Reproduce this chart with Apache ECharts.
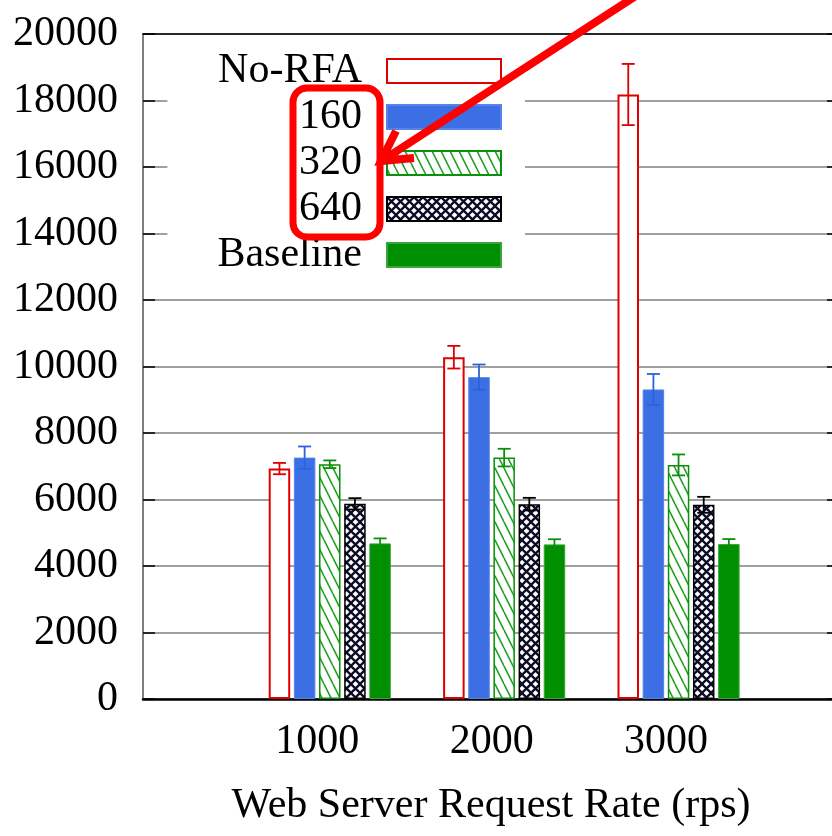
<!DOCTYPE html>
<html>
<head>
<meta charset="utf-8">
<script src="https://cdn.jsdelivr.net/npm/echarts@6/dist/echarts.min.js"></script>
<style>
html,body{margin:0;padding:0;background:#fff;}
#chart{width:832px;height:836px;}
</style>
</head>
<body>
<div id="chart"></div>
<script>
// ---- data ----
const categories = ['1000', '2000', '3000'];
const groupPositions = [1, 2, 3];
const seriesNames = ['No-RFA', '160', '320', '640', 'Baseline'];
const noRFA = [6930, 10280, 18180];
const noRFAErr = [170, 340, 920];
const r160 = [7260, 9680, 9310];
const r160Err = [335, 380, 465];
const r320 = [7060, 7260, 7040];
const r320Err = [115, 265, 315];
const r640 = [5870, 5860, 5840];
const r640Err = [170, 190, 240];
const baseline = [4680, 4650, 4660];
const baselineErr = [150, 155, 150];
const yTicks = [0, 2000, 4000, 6000, 8000, 10000, 12000, 14000, 16000, 18000, 20000];

const values = [noRFA, r160, r320, r640, baseline];
const errors = [noRFAErr, r160Err, r320Err, r640Err, baselineErr];

// ---- styles ----
const FONT = 'Liberation Serif';
const BAR_W = 21.5;
const BAR_GAP = 0.17;
const PITCH = BAR_W * (1 + BAR_GAP);

function hatchPattern() {
  const w = 9, h = 18;
  const c = document.createElement('canvas');
  c.width = w; c.height = h;
  const g = c.getContext('2d');
  g.fillStyle = '#ffffff'; g.fillRect(0, 0, w, h);
  g.strokeStyle = '#1e9e1e'; g.lineWidth = 1.6;
  for (const dx of [-w, 0, w]) {
    g.beginPath(); g.moveTo(dx, 0); g.lineTo(dx + w, h); g.stroke();
  }
  return c;
}
function crossPattern() {
  const s = 9;
  const c = document.createElement('canvas');
  c.width = s; c.height = s;
  const g = c.getContext('2d');
  g.fillStyle = '#ffffff'; g.fillRect(0, 0, s, s);
  g.strokeStyle = '#0c0c26'; g.lineWidth = 2.3;
  for (const dx of [-s, 0, s]) {
    g.beginPath(); g.moveTo(dx, 0); g.lineTo(dx + s, s); g.stroke();
    g.beginPath(); g.moveTo(dx + s, 0); g.lineTo(dx, s); g.stroke();
  }
  return c;
}

const itemStyles = [
  { color: '#ffffff', borderColor: '#e00000', borderWidth: 2 },
  { color: '#3b6fe3', borderColor: '#5583ea', borderWidth: 1 },
  { color: { image: hatchPattern(), repeat: 'repeat' }, borderColor: '#0a900a', borderWidth: 1.5 },
  { color: { image: crossPattern(), repeat: 'repeat' }, borderColor: '#000000', borderWidth: 1.5 },
  { color: '#008f00', borderColor: '#3aa53a', borderWidth: 1 }
];
const errColors = ['#e00000', '#2a62e0', '#0a900a', '#000000', '#0a900a'];

const barSeries = seriesNames.map((name, s) => ({
  name: name,
  type: 'bar',
  xAxisIndex: 0,
  yAxisIndex: 0,
  barWidth: BAR_W,
  barGap: (BAR_GAP * 100) + '%',
  itemStyle: itemStyles[s],
  emphasis: { disabled: true },
  data: groupPositions.map((x, g) => [x, values[s][g]]),
  z: 3
}));

const errData = [];
seriesNames.forEach((name, s) => {
  groupPositions.forEach((x, g) => {
    errData.push([x, s, values[s][g], errors[s][g]]);
  });
});

const errSeries = {
  type: 'custom',
  xAxisIndex: 0,
  yAxisIndex: 0,
  z: 4,
  silent: true,
  data: errData,
  encode: { x: 0, y: 2 },
  renderItem: function (params, api) {
    const x = api.value(0), s = api.value(1), v = api.value(2), e = api.value(3);
    const top = api.coord([x, v + e]);
    const bot = api.coord([x, v - e]);
    const cx = top[0] + (s - 2) * PITCH;
    const cap = 6.5;
    const st = { stroke: errColors[s], lineWidth: 1.8 };
    return {
      type: 'group',
      children: [
        { type: 'line', shape: { x1: cx, y1: top[1], x2: cx, y2: bot[1] }, style: st },
        { type: 'line', shape: { x1: cx - cap, y1: top[1], x2: cx + cap, y2: top[1] }, style: st },
        { type: 'line', shape: { x1: cx - cap, y1: bot[1], x2: cx + cap, y2: bot[1] }, style: st }
      ]
    };
  }
};

const chart = echarts.init(document.getElementById('chart'), null, { renderer: 'canvas' });
chart.setOption({
  animation: false,
  backgroundColor: '#ffffff',
  textStyle: { fontFamily: FONT, color: '#000' },
  grid: { left: 143, right: -7, top: 34, bottom: 137, containLabel: false, outerBoundsMode: 'none' },
  legend: {
    orient: 'vertical',
    align: 'right',
    right: 307,
    top: 36,
    padding: [14, 23, 10, 50],
    backgroundColor: '#ffffff',
    itemWidth: 114,
    itemHeight: 24,
    itemGap: 4,
    icon: 'rect',
    selectedMode: false,
    data: seriesNames,
    textStyle: { fontFamily: FONT, fontSize: 42, color: '#000', lineHeight: 34, padding: [0, 20, 8, 0] }
  },
  xAxis: [
    {
      type: 'value',
      position: 'bottom',
      min: -0.071,
      max: 3.92,
      axisLine: { show: true, onZero: false, lineStyle: { color: '#000', width: 2.5 } },
      axisTick: { show: false },
      splitLine: { show: false },
      axisLabel: {
        customValues: groupPositions,
        formatter: function (v) { return categories[Math.round(v) - 1]; },
        fontFamily: FONT, fontSize: 42, color: '#000',
        margin: 22,
        padding: [0, 25, 0, 0]
      },
      name: 'Web Server Request Rate (rps)',
      nameLocation: 'middle',
      nameGap: 86,
      nameTextStyle: { fontFamily: FONT, fontSize: 42, color: '#000' }
    },
    {
      type: 'value',
      position: 'top',
      min: -0.071,
      max: 3.92,
      axisLine: { show: true, onZero: false, lineStyle: { color: '#000', width: 1.5 } },
      axisTick: { show: false },
      axisLabel: { show: false },
      splitLine: { show: false }
    }
  ],
  yAxis: [
    {
      type: 'value',
      position: 'left',
      min: 0,
      max: 20000,
      interval: 2000,
      axisLine: { show: true, onZero: false, lineStyle: { color: '#808080', width: 2 } },
      axisTick: { show: true, inside: true, length: 12, lineStyle: { color: '#000', width: 1.5 } },
      splitLine: { show: true, lineStyle: { color: '#808080', width: 1.5 } },
      axisLabel: {
        fontFamily: FONT, fontSize: 42, color: '#000', margin: 25,
        customValues: yTicks,
        formatter: function (v) { return String(v); }
      }
    },
    {
      type: 'value',
      position: 'right',
      min: 0,
      max: 20000,
      interval: 2000,
      axisLine: { show: true, onZero: false, lineStyle: { color: '#808080', width: 2 } },
      axisTick: { show: true, inside: true, length: 12, lineStyle: { color: '#000', width: 1.5 } },
      splitLine: { show: false },
      axisLabel: { show: false }
    }
  ],
  series: barSeries.concat([errSeries]),
  graphic: [
    {
      type: 'rect',
      z: 100,
      shape: { x: 293, y: 88, width: 87, height: 149, r: 14 },
      style: { fill: 'none', stroke: '#ff0000', lineWidth: 7 }
    },
    {
      type: 'line',
      z: 100,
      shape: { x1: 383, y1: 160, x2: 645, y2: -10 },
      style: { stroke: '#ff0000', lineWidth: 8 }
    },
    {
      type: 'polyline',
      z: 100,
      shape: { points: [[396, 131], [381, 161], [414, 158]] },
      style: { stroke: '#ff0000', lineWidth: 8, fill: 'none', lineJoin: 'miter' }
    }
  ]
});
</script>
</body>
</html>
